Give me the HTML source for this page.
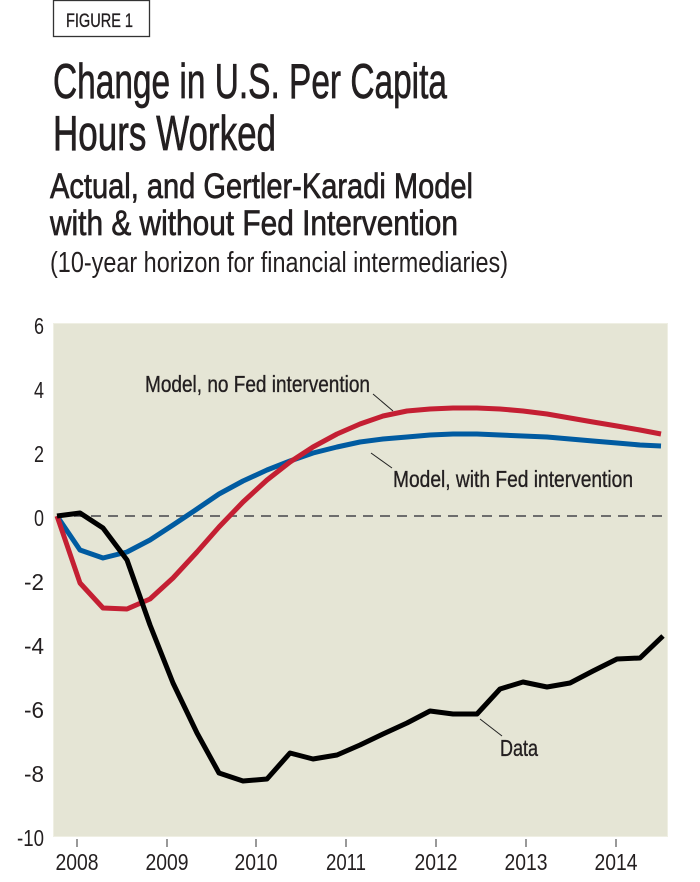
<!DOCTYPE html>
<html>
<head>
<meta charset="utf-8">
<style>
html,body{margin:0;padding:0;background:#fff;}
svg{display:block;}
text{font-family:"Liberation Sans Narrow","Liberation Sans",sans-serif;fill:#231f20;}
.b{stroke:#231f20;stroke-width:0.7;}
.m{stroke:#231f20;stroke-width:0.35;}
</style>
</head>
<body>
<svg width="700" height="882" viewBox="0 0 700 882" xmlns="http://www.w3.org/2000/svg">
  <!-- Figure box -->
  <rect x="53.5" y="0.5" width="96" height="36" fill="none" stroke="#333" stroke-width="1.3"/>
  <text class="m" x="66" y="27" font-size="19" textLength="67" lengthAdjust="spacingAndGlyphs">FIGURE 1</text>

  <!-- Titles -->
  <text class="b" x="53" y="98" font-size="49" textLength="394" lengthAdjust="spacingAndGlyphs">Change in U.S. Per Capita</text>
  <text class="b" x="53" y="150" font-size="49" textLength="223" lengthAdjust="spacingAndGlyphs">Hours Worked</text>
  <text class="b" x="50" y="198" font-size="35" textLength="423" lengthAdjust="spacingAndGlyphs">Actual, and Gertler-Karadi Model</text>
  <text class="b" x="50" y="235" font-size="35" textLength="408" lengthAdjust="spacingAndGlyphs">with &amp; without Fed Intervention</text>
  <text x="50" y="272" font-size="29" textLength="458" lengthAdjust="spacingAndGlyphs">(10-year horizon for financial intermediaries)</text>

  <!-- Plot area -->
  <rect x="53" y="323" width="615" height="514" fill="#e5e5d5"/>
  <rect x="53.5" y="323.5" width="614" height="513" fill="none" stroke="#efefe3" stroke-width="1"/>

  <!-- zero dashed line -->
  <line x1="57" y1="516" x2="668" y2="516" stroke="#6d6d6d" stroke-width="2" stroke-dasharray="10,7"/>

  <!-- Y labels -->
  <g font-size="23" text-anchor="end">
    <text x="44" y="334" textLength="10" lengthAdjust="spacingAndGlyphs">6</text>
    <text x="44" y="398" textLength="10" lengthAdjust="spacingAndGlyphs">4</text>
    <text x="44" y="462" textLength="10" lengthAdjust="spacingAndGlyphs">2</text>
    <text x="44" y="526" textLength="10" lengthAdjust="spacingAndGlyphs">0</text>
    <text x="44" y="590" textLength="20" lengthAdjust="spacingAndGlyphs">-2</text>
    <text x="44" y="654" textLength="20" lengthAdjust="spacingAndGlyphs">-4</text>
    <text x="44" y="718" textLength="20" lengthAdjust="spacingAndGlyphs">-6</text>
    <text x="44" y="782" textLength="20" lengthAdjust="spacingAndGlyphs">-8</text>
    <text x="44" y="846" textLength="27" lengthAdjust="spacingAndGlyphs">-10</text>
  </g>

  <!-- X ticks -->
  <g stroke="#555" stroke-width="1.2">
    <line x1="77" y1="839" x2="77" y2="847"/>
    <line x1="167" y1="839" x2="167" y2="847"/>
    <line x1="256" y1="839" x2="256" y2="847"/>
    <line x1="346" y1="839" x2="346" y2="847"/>
    <line x1="436" y1="839" x2="436" y2="847"/>
    <line x1="526" y1="839" x2="526" y2="847"/>
    <line x1="616" y1="839" x2="616" y2="847"/>
  </g>
  <g font-size="23" text-anchor="middle">
    <text x="77" y="870" textLength="43" lengthAdjust="spacingAndGlyphs">2008</text>
    <text x="167" y="870" textLength="43" lengthAdjust="spacingAndGlyphs">2009</text>
    <text x="256" y="870" textLength="43" lengthAdjust="spacingAndGlyphs">2010</text>
    <text x="346" y="870" textLength="40" lengthAdjust="spacingAndGlyphs">2011</text>
    <text x="436" y="870" textLength="43" lengthAdjust="spacingAndGlyphs">2012</text>
    <text x="526" y="870" textLength="43" lengthAdjust="spacingAndGlyphs">2013</text>
    <text x="616" y="870" textLength="43" lengthAdjust="spacingAndGlyphs">2014</text>
  </g>

  <!-- Series -->
  <g fill="none" stroke-width="5" stroke-linejoin="round" stroke-linecap="butt">
    <polyline stroke="#005ba1" points="57,516 80,550 103,558 127,552 150,540 173,525 197,509 219,494 243,481 267,470 290,461 313,453 337,447 360,442 383,439 407,437 430,435 453,434 477,434 500,435 523,436 547,437 570,439 593,441 617,443 640,445 661,446"/>
    <polyline stroke="#c41f33" points="57,516 80,583 103,608 127,609 150,599 173,578 197,552 219,527 243,502 267,480 290,462 313,447 337,434 360,424 383,416 407,411 430,409 453,408 477,408 500,409 523,411 547,414 570,418 593,422 617,426 640,430 661,434"/>
    <polyline stroke="#000" points="57,516 80,513 103,528 127,560 150,625 173,683 197,733 219,773 243,781 267,779 290,753 313,759 337,755 360,745 383,734 407,723 430,711 453,714 477,714 500,689 523,682 547,687 570,683 593,671 617,659 640,658 663,636"/>
  </g>

  <!-- Annotations -->
  <g stroke="#222" stroke-width="1">
    <line x1="373" y1="394" x2="393" y2="411"/>
    <line x1="371" y1="453" x2="392" y2="468"/>
    <line x1="480" y1="719" x2="502" y2="736"/>
  </g>
  <g font-size="23">
    <text class="m" x="145" y="392" textLength="225" lengthAdjust="spacingAndGlyphs">Model, no Fed intervention</text>
    <text class="m" x="393" y="487" textLength="240" lengthAdjust="spacingAndGlyphs">Model, with Fed intervention</text>
    <text class="m" x="500" y="756" textLength="38" lengthAdjust="spacingAndGlyphs">Data</text>
  </g>
</svg>
</body>
</html>
